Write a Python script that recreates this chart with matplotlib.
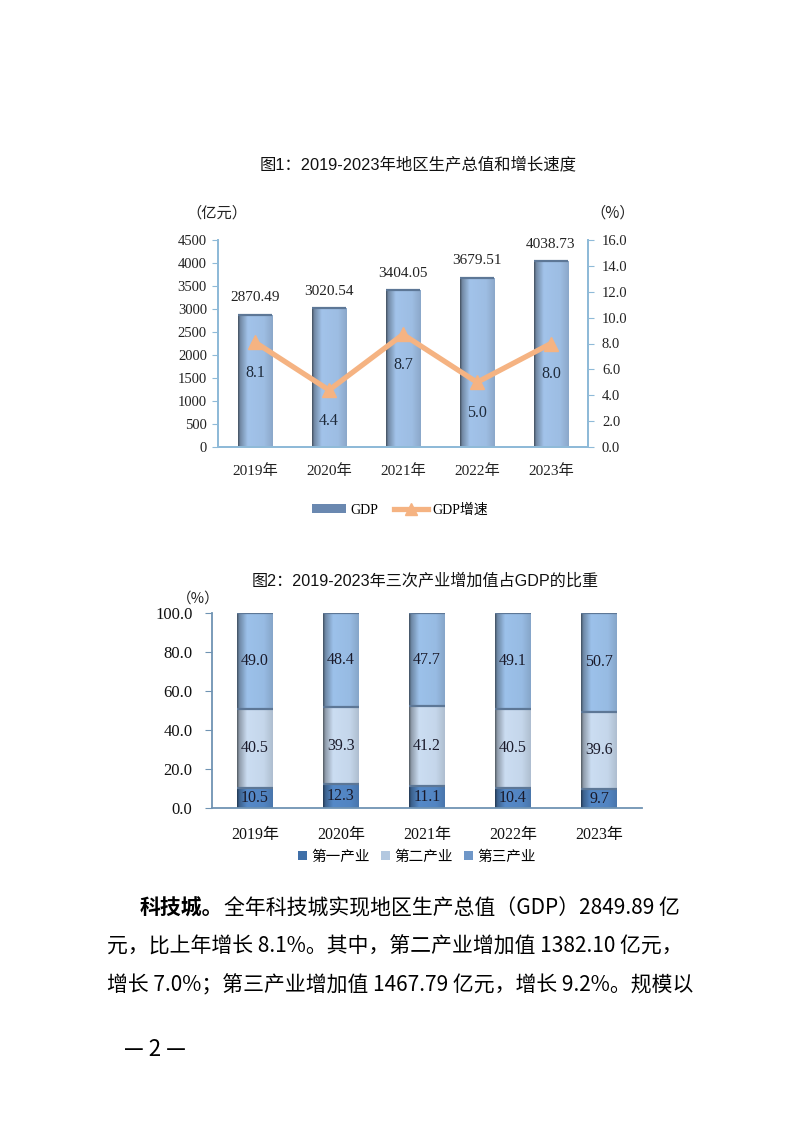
import numpy as np
import matplotlib
matplotlib.use('Agg')
import matplotlib.pyplot as plt
from matplotlib.colors import to_rgb
from matplotlib.patches import Rectangle
from matplotlib.lines import Line2D

# ---------------- data ----------------
years = ['2019年', '2020年', '2021年', '2022年', '2023年']
gdp = [2870.49, 3020.54, 3404.05, 3679.51, 4038.73]
growth = [8.1, 4.4, 8.7, 5.0, 8.0]
primary = [10.5, 12.3, 11.1, 10.4, 9.7]
secondary = [40.5, 39.3, 41.2, 40.5, 39.6]
tertiary = [49.0, 48.4, 47.7, 49.1, 50.7]
gdp_ticks = [0, 500, 1000, 1500, 2000, 2500, 3000, 3500, 4000, 4500]
growth_ticks = [0, 2, 4, 6, 8, 10, 12, 14, 16]
share_ticks = [0, 20, 40, 60, 80, 100]
title1 = '图1：2019-2023年地区生产总值和增长速度'
title2 = '图2：2019-2023年三次产业增加值占GDP的比重'
series1 = ['GDP', 'GDP增速']
series2 = ['第一产业', '第二产业', '第三产业']
body_bold = '科技城。'
body_lines = ['全年科技城实现地区生产总值（GDP）2849.89 亿',
              '元，比上年增长 8.1%。其中，第二产业增加值 1382.10 亿元，',
              '增长 7.0%；第三产业增加值 1467.79 亿元，增长 9.2%。规模以']
page_no = '— 2 —'

SERIF = ['Liberation Serif', 'Noto Sans CJK SC']
SANS = ['Liberation Sans', 'Noto Sans CJK SC']
CJK = ['Noto Sans CJK SC', 'DejaVu Sans']

W, H = 794, 1123
fig = plt.figure(figsize=(W / 100, H / 100), dpi=100)


def fx(px):
    return px / W


def fy(py):
    return 1 - py / H


def shade(ax, patches, base, z=2):
    rgb = np.array(to_rgb(base))
    t = np.linspace(0, 1, 80)
    prof = np.interp(t, [0, 0.06, 0.28, 0.75, 1.0], [0.42, 0.70, 1.0, 0.97, 0.86])
    img = np.clip(rgb[None, None, :] * prof[None, :, None], 0, 1)
    img = np.repeat(img, 2, axis=0)
    for p in patches:
        x0, y0 = p.get_x(), p.get_y()
        w, h = p.get_width(), p.get_height()
        im = ax.imshow(img, extent=(x0, x0 + w, y0, y0 + h), aspect='auto',
                       zorder=z, interpolation='bilinear')
        im.set_clip_path(p)
        ax.plot([x0, x0 + w], [y0 + h, y0 + h], color='#5d7796', lw=1.6,
                zorder=z + 0.1, solid_capstyle='butt')


# ---------------- chart 1 ----------------
x = np.arange(len(years))
spine1 = '#8fbad8'
ax1 = fig.add_axes([fx(218), fy(447), fx(588) - fx(218), fy(240) - fy(447)])
bars = ax1.bar(x, gdp, width=0.46, color='#9dbfe8', zorder=2)
shade(ax1, bars, '#a2c3ea')
ax1.set_xlim(-0.5, 4.5)
ax1.set_ylim(0, 4500)
ax1.set_yticks(gdp_ticks)
ax1.set_yticklabels([str(v) for v in gdp_ticks], family=SERIF, fontsize=10.5, color='#222222')
ax1.set_xticks(x)
ax1.set_xticklabels(years, family=SERIF, fontsize=11, color='#222222')
ax1.tick_params(axis='x', length=0, pad=12)
ax1.tick_params(axis='y', direction='out', length=4, color=spine1, pad=4)
ax1.spines['top'].set_visible(False)
for s in ['left', 'bottom', 'right']:
    ax1.spines[s].set_color(spine1)
    ax1.spines[s].set_linewidth(1.3)
for i, v in enumerate(gdp):
    ax1.annotate(f'{v:.2f}', (i, v), xytext=(0, 17), textcoords='offset pixels',
                 ha='center', va='center', family=SERIF, fontsize=11, color='#222222')

ax2 = ax1.twinx()
ax2.plot(x, growth, color='#f5b382', lw=3.8, marker='^', ms=10, zorder=3)
ax2.set_ylim(0, 16)
ax2.set_yticks(growth_ticks)
ax2.set_yticklabels([f'{v:.1f}' for v in growth_ticks], family=SERIF, fontsize=10.5, color='#222222')
ax2.tick_params(axis='y', direction='out', length=4, color=spine1, pad=6)
ax2.spines['top'].set_visible(False)
for s in ['left', 'bottom', 'right']:
    ax2.spines[s].set_color(spine1)
    ax2.spines[s].set_linewidth(1.3)
for i, v in enumerate(growth):
    ax2.annotate(f'{v:.1f}', (i, v), xytext=(0, -31), textcoords='offset pixels',
                 ha='center', va='center', family=SERIF, fontsize=11.5, color='#1e2a3a')

fig.text(fx(418), fy(165), title1, ha='center', va='center', family=SANS, fontsize=11.8, color='#111111')
fig.text(fx(217), fy(213), '（亿元）', ha='center', va='center', family=CJK, fontsize=11, color='#222222')
fig.text(fx(613), fy(213), '（%）', ha='center', va='center', family=CJK, fontsize=11, color='#222222')

h1 = [Rectangle((0, 0), 1, 1, facecolor='#6a88b0', edgecolor='none'),
      Line2D([], [], color='#f5b382', lw=3.8, marker='^', ms=8)]
fig.legend(h1, series1, loc='center', bbox_to_anchor=(fx(400), fy(510)), ncol=2, frameon=False,
           prop={'family': SERIF, 'size': 10}, handlelength=2.4, handleheight=0.6,
           columnspacing=1.2, handletextpad=0.3)

# ---------------- chart 2 ----------------
spine2 = '#6f93b3'
ax3 = fig.add_axes([fx(212), fy(808), fx(642) - fx(212), fy(613) - fy(808)])
base2 = np.array(primary) + np.array(secondary)
b1 = ax3.bar(x, primary, width=0.41, color='#4f82c0', zorder=2)
b2 = ax3.bar(x, secondary, bottom=primary, width=0.41, color='#c7daf1', zorder=2)
b3 = ax3.bar(x, tertiary, bottom=base2, width=0.41, color='#98bde6', zorder=2)
shade(ax3, b1, '#5589c8')
shade(ax3, b2, '#cbddf2')
shade(ax3, b3, '#9cc1ea')
ax3.set_xlim(-0.5, 4.5)
ax3.set_ylim(0, 100)
ax3.set_yticks(share_ticks)
ax3.set_yticklabels([f'{v:.1f}' for v in share_ticks], family=SERIF, fontsize=12, color='#111111')
ax3.set_xticks(x)
ax3.set_xticklabels(years, family=SERIF, fontsize=11.5, color='#111111')
ax3.tick_params(axis='x', length=0, pad=14)
ax3.tick_params(axis='y', direction='out', length=5, color=spine2, pad=9)
for s in ['top', 'right']:
    ax3.spines[s].set_visible(False)
for s in ['left', 'bottom']:
    ax3.spines[s].set_color(spine2)
    ax3.spines[s].set_linewidth(1.3)
for b, vals in [(b1, primary), (b2, secondary), (b3, tertiary)]:
    ax3.bar_label(b, labels=[f'{v:.1f}' for v in vals], label_type='center',
                  family=SERIF, fontsize=11.5, color='#1a1a2a', zorder=5)

fig.text(fx(425), fy(580), title2, ha='center', va='center', family=SANS, fontsize=11.6, color='#111111')
fig.text(fx(198), fy(599), '（%）', ha='center', va='center', family=CJK, fontsize=10.5, color='#222222')

h2 = [Rectangle((0, 0), 1, 1, facecolor=c, edgecolor='none') for c in ['#3f6fa8', '#b3c8e0', '#6f97c8']]
fig.legend(h2, series2, loc='center', bbox_to_anchor=(fx(417), fy(857)), ncol=3, frameon=False,
           prop={'family': CJK, 'size': 10.5}, handlelength=0.6, handleheight=0.6,
           columnspacing=0.8, handletextpad=0.3)

# ---------------- body text ----------------
fs = 15
t0 = fig.text(fx(140), fy(908), body_bold, ha='left', va='center', family=CJK, fontsize=fs,
              fontweight='bold', color='#000000')
fig.canvas.draw()
bb = t0.get_window_extent()
fig.text(bb.x1 / W, fy(908), body_lines[0], ha='left', va='center', family=CJK, fontsize=fs, color='#000000')
fig.text(fx(107), fy(947), body_lines[1], ha='left', va='center', family=CJK, fontsize=fs, color='#000000')
fig.text(fx(107), fy(985), body_lines[2], ha='left', va='center', family=CJK, fontsize=fs, color='#000000')
fig.text(fx(155), fy(1050), page_no, ha='center', va='center', family=CJK, fontsize=16, color='#000000')

fig.savefig('out.png', dpi=100)
